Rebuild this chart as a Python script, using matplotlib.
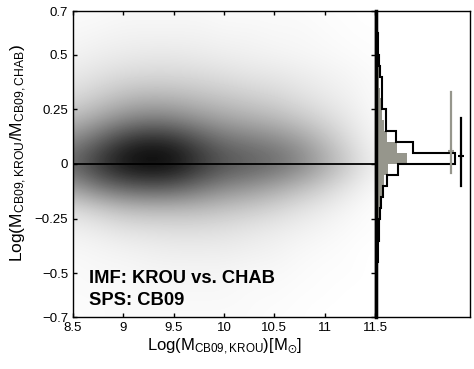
import matplotlib
matplotlib.use("Agg")
import matplotlib.pyplot as plt
import numpy as np

plt.rcParams['font.family'] = ['Liberation Sans', 'DejaVu Sans']
plt.rcParams['mathtext.default'] = 'regular'

# density map (darkness 0..1), rows y = 0.7 .. -0.7 step 0.1, cols x = 8.5 .. 11.5 step 0.25
density = np.array([
    [0.02, 0.02, 0.03, 0.03, 0.03, 0.03, 0.02, 0.02, 0.02, 0.02, 0.01, 0.01, 0.00],
    [0.03, 0.04, 0.05, 0.05, 0.05, 0.05, 0.04, 0.04, 0.03, 0.03, 0.02, 0.01, 0.01],
    [0.05, 0.07, 0.08, 0.09, 0.09, 0.08, 0.07, 0.06, 0.05, 0.04, 0.03, 0.02, 0.01],
    [0.09, 0.12, 0.15, 0.16, 0.16, 0.15, 0.13, 0.11, 0.10, 0.08, 0.06, 0.04, 0.02],
    [0.15, 0.21, 0.27, 0.30, 0.29, 0.26, 0.23, 0.20, 0.17, 0.13, 0.09, 0.06, 0.02],
    [0.28, 0.37, 0.47, 0.52, 0.50, 0.43, 0.37, 0.33, 0.29, 0.23, 0.16, 0.09, 0.03],
    [0.48, 0.63, 0.80, 0.88, 0.84, 0.70, 0.58, 0.53, 0.48, 0.40, 0.27, 0.14, 0.04],
    [0.62, 0.80, 0.95, 1.00, 0.97, 0.82, 0.70, 0.65, 0.60, 0.50, 0.35, 0.20, 0.06],
    [0.40, 0.55, 0.64, 0.68, 0.66, 0.57, 0.48, 0.43, 0.36, 0.28, 0.19, 0.10, 0.03],
    [0.14, 0.20, 0.26, 0.28, 0.28, 0.27, 0.24, 0.21, 0.17, 0.12, 0.08, 0.04, 0.01],
    [0.06, 0.08, 0.11, 0.12, 0.13, 0.13, 0.12, 0.10, 0.08, 0.06, 0.04, 0.02, 0.01],
    [0.03, 0.04, 0.05, 0.06, 0.07, 0.07, 0.07, 0.06, 0.05, 0.03, 0.02, 0.01, 0.00],
    [0.02, 0.03, 0.03, 0.04, 0.04, 0.04, 0.04, 0.03, 0.03, 0.02, 0.01, 0.01, 0.00],
    [0.02, 0.02, 0.02, 0.03, 0.03, 0.03, 0.03, 0.02, 0.02, 0.01, 0.01, 0.00, 0.00],
    [0.01, 0.02, 0.02, 0.02, 0.02, 0.02, 0.02, 0.02, 0.01, 0.01, 0.00, 0.00, 0.00],
])

# histograms of the ratio, bins from -0.7 up to 0.7 step 0.05
bin_edges = np.round(np.arange(-0.7, 0.71, 0.05), 2)
hist_black = [1, 1, 1, 1, 1, 2, 2, 3, 3, 4, 5, 7, 11, 22,
              79, 37, 20, 10, 10, 6, 6, 6, 4, 3, 2, 2, 1, 1]
hist_gray = [1, 1, 1, 1, 1, 2, 2, 2, 3, 3, 4, 6, 8, 12,
             31, 21, 11, 8, 6, 5, 4, 3, 3, 2, 2, 1, 1, 1]

# mean and spread markers in the side panel
err_pos = [75, 85]
err_mid = [0.06, 0.035]
err_lo = [-0.04, -0.10]
err_hi = [0.33, 0.21]
err_col = ['#96968c', 'black']

xticks = [8.5, 9, 9.5, 10, 10.5, 11, 11.5]
xticklabels = ['8.5', '9', '9.5', '10', '10.5', '11', '11.5']
yticks = [-0.7, -0.5, -0.25, 0, 0.25, 0.5, 0.7]
yticklabels = ['\u22120.7', '\u22120.5', '\u22120.25', '0', '0.25', '0.5', '0.7']

fig = plt.figure(figsize=(4.74, 3.69), dpi=100)
ax = fig.add_axes([73/474, 52/369, 302/474, 306/369])
axh = fig.add_axes([376/474, 52/369, 94/474, 306/369])

ax.imshow(density, cmap='gray_r', vmin=0, vmax=1, interpolation='bicubic',
          aspect='auto', extent=[8.5 - 0.125, 11.5 + 0.125, -0.75, 0.75])
ax.axhline(0, color='black', lw=1.3)
ax.set_xlim(8.5, 11.5)
ax.set_ylim(-0.7, 0.7)
ax.set_xticks(xticks)
ax.set_xticklabels(xticklabels)
ax.set_yticks(yticks)
ax.set_yticklabels(yticklabels)
ax.tick_params(direction='in', top=True, right=True, length=3, width=1, labelsize=9.5)
for s in ax.spines.values():
    s.set_linewidth(1)
ax.set_xlabel('Log(M$_{CB09,KROU}$)[M$_{\\odot}$]', fontsize=12, labelpad=2)
ax.set_ylabel('Log(M$_{CB09,KROU}$/M$_{CB09,CHAB}$)', fontsize=12.5)
ax.yaxis.set_label_coords(-0.145, 0.535)
ax.text(8.66, -0.544, 'IMF: KROU vs. CHAB', fontsize=13.2, fontweight='bold', va='baseline')
ax.text(8.66, -0.645, 'SPS: CB09', fontsize=13.2, fontweight='bold', va='baseline')

# side histograms
axh.stairs(hist_gray, bin_edges, orientation='horizontal', fill=True,
           color='#96968c', lw=0)
axh.stairs(hist_black, bin_edges, orientation='horizontal',
           color='black', lw=1.5)
for p, m, lo, hi, c in zip(err_pos, err_mid, err_lo, err_hi, err_col):
    axh.plot([p, p], [lo, hi], color=c, lw=1.6)
    axh.plot(p, m, marker='+', color=c, ms=5, mew=1.5)
axh.set_xlim(0, 94)
axh.set_ylim(-0.7, 0.7)
axh.set_xticks([])
axh.set_yticks([])
for s in axh.spines.values():
    s.set_linewidth(1)
axh.spines['left'].set_linewidth(2.5)

fig.savefig('out.png', dpi=100)
